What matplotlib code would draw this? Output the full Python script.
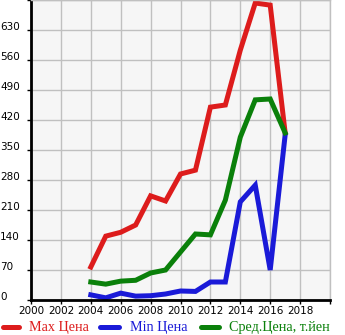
import matplotlib
matplotlib.use("Agg")
import matplotlib.pyplot as plt
import matplotlib.transforms as mtransforms
from matplotlib.lines import Line2D

############### Data ###############
years = [2004, 2005, 2006, 2007, 2008, 2009, 2010, 2011, 2012, 2013, 2014, 2015, 2016, 2017]
max_price = [77, 149, 158, 175, 243, 231, 294, 303, 450, 455, 583, 693, 688, 390]
min_price = [12, 5, 16, 9, 10, 14, 21, 20, 42, 42, 229, 268, 70, 385]
avg_price = [42, 37, 44, 46, 63, 70, 112, 154, 152, 233, 380, 467, 469, 390]

x_ticks = list(range(2000, 2019, 2))
y_ticks = list(range(0, 631, 70))

labels = ["Max Цена", "Min Цена", "Сред.Цена, т.йен"]
colors = ["#dd1c1c", "#1a1ad8", "#0a800a"]

W, H = 345, 335

############### Plot ###############
fig = plt.figure(figsize=(W / 100, H / 100), dpi=100)
ax = fig.add_axes([31 / W, 35 / H, 299 / W, 300 / H])
ax.set_facecolor("#f6f6f6")

for vals, lab, col in zip([max_price, min_price, avg_price], labels, colors):
    ax.plot(years, vals, color=col, lw=3.6, label=lab, solid_joinstyle="miter")

ax.set_xlim(2000, 2020)
ax.set_ylim(0, 700)
ax.set_xticks(list(range(2000, 2021, 2)))
ax.set_xticklabels([str(x) for x in x_ticks] + [""])
ax.set_yticks(list(range(0, 701, 70)))
ax.set_yticklabels([])
ax.grid(True, color="#c0c0c0", lw=1)
ax.set_axisbelow(True)

for side in ["left", "bottom"]:
    ax.spines[side].set_color("black")
    ax.spines[side].set_linewidth(2)
for side in ["top", "right"]:
    ax.spines[side].set_color("#c0c0c0")
    ax.spines[side].set_linewidth(1)

ax.tick_params(axis="both", labelsize=7.5, length=3, width=1, pad=1)

# y labels sit left-aligned at the figure edge, a little above their gridline
trans = mtransforms.blended_transform_factory(fig.transFigure, ax.transData)
trans = trans + mtransforms.ScaledTranslation(0, 3 / 100, fig.dpi_scale_trans)
for y in y_ticks:
    ax.text(0, y, str(y), transform=trans, ha="left", va="center",
            fontsize=7.5, clip_on=False)

# legend row under the chart
leg_y = 8
leg_pos = [(3, 19, 29), (100, 119, 130), (201, 219, 229)]
for (x0, x1, xt), lab, col in zip(leg_pos, labels, colors):
    fig.add_artist(Line2D([x0 / W, x1 / W], [leg_y / H, leg_y / H],
                          transform=fig.transFigure, color=col, lw=3.6,
                          solid_capstyle="round"))
    fig.text(xt / W, leg_y / H, lab, color=col, ha="left", va="center",
             family="Liberation Serif", fontsize=10.2)

fig.savefig("out.png", dpi=100)
